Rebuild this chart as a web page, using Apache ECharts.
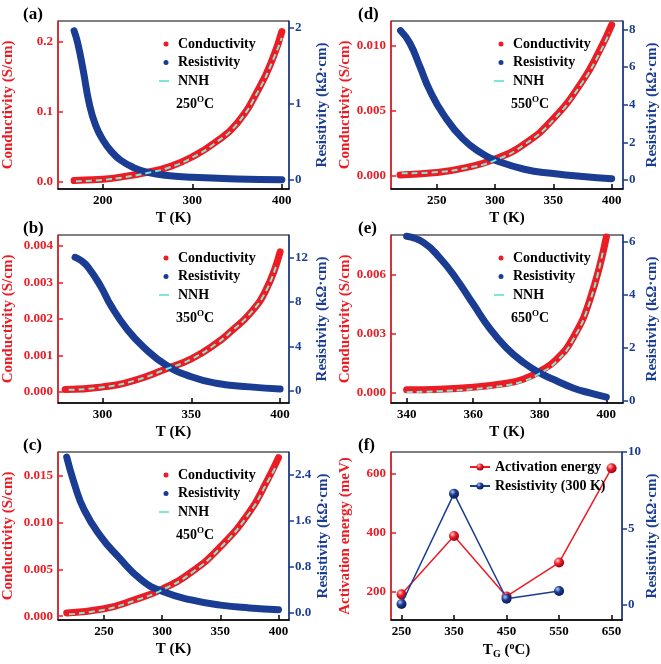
<!DOCTYPE html>
<html>
<head>
<meta charset="utf-8">
<title>Conductivity and resistivity vs T</title>
<script src="https://cdn.jsdelivr.net/npm/echarts@6/dist/echarts.min.js"></script>
<style>
html, body { margin: 0; padding: 0; background: #fff; }
#chart { width: 661px; height: 664px; }
</style>
</head>
<body>
<div id="chart"></div>
<script>
// values, [T (K), value]
// (a) 250 oC
const condA = [[168, 0.002], [180, 0.003], [200, 0.004], [225, 0.008], [250, 0.014], [275, 0.022], [300, 0.036], [325, 0.056], [350, 0.084], [375, 0.135], [390, 0.177], [400, 0.215]]
const nnhA = [[170, 0.001], [200, 0.003], [225, 0.007], [250, 0.013], [275, 0.021], [300, 0.035], [325, 0.055], [350, 0.083], [375, 0.133], [390, 0.174], [400, 0.206]]
const resA = [[168, 1.96], [172, 1.8], [178, 1.45], [185, 1.0], [192, 0.72], [200, 0.53], [210, 0.37], [220, 0.26], [235, 0.16], [250, 0.1], [275, 0.055], [300, 0.035], [350, 0.015], [400, 0.005]]
// (b) 350 oC
const condB = [[279, 0.00007], [300, 0.00014], [318, 0.00032], [336, 0.00064], [350, 0.00091], [364, 0.00133], [373, 0.00169], [383, 0.00215], [392, 0.00279], [400, 0.00384]]
const nnhB = [[281, 0.00006], [300, 0.00013], [318, 0.00031], [336, 0.00063], [350, 0.0009], [364, 0.00132], [373, 0.00168], [383, 0.00214], [392, 0.00276], [398, 0.0035]]
const resB = [[284.6, 12.0], [288, 11.7], [292, 11.1], [299, 9.4], [305, 7.6], [314, 5.5], [323, 3.95], [336, 2.3], [350, 1.26], [364, 0.68], [383, 0.35], [400, 0.15]]
// (c) 450 oC
const condC = [[218, 0.00035], [250, 0.0008], [275, 0.0017], [300, 0.0029], [325, 0.0047], [350, 0.0074], [375, 0.0111], [390, 0.0144], [400, 0.0169]]
const nnhC = [[220, 0.0002], [250, 0.0007], [275, 0.0016], [300, 0.0028], [325, 0.0046], [350, 0.0073], [375, 0.011], [390, 0.0142], [398, 0.016]]
const resC = [[218, 2.71], [224.5, 2.25], [233, 1.79], [247.5, 1.32], [262, 0.98], [282, 0.57], [300, 0.37], [325, 0.22], [350, 0.13], [375, 0.08], [400, 0.05]]
// (d) 550 oC
const condD = [[218.5, 0.00008], [250, 0.00026], [275, 0.00064], [300, 0.0013], [325, 0.00245], [350, 0.0044], [375, 0.0073], [390, 0.0097], [400, 0.0116]]
const nnhD = [[220, 0.0002], [250, 0.0003], [275, 0.0006], [300, 0.0012], [325, 0.0024], [350, 0.0043], [375, 0.0072], [390, 0.0095], [398, 0.011]]
const resD = [[219, 7.93], [227, 7.26], [235.7, 6.0], [244, 4.76], [255.4, 3.51], [272.5, 2.18], [289.7, 1.37], [300, 1.05], [325, 0.57], [350, 0.34], [375, 0.18], [400, 0.07]]
// (e) 650 oC
const condE = [[340, 0.00017], [350, 0.0002], [360, 0.0003], [370, 0.0005], [375, 0.0007], [380, 0.0011], [385, 0.0017], [390, 0.0028], [395, 0.0047], [400, 0.0079]]
const nnhE = [[340, 0.00005], [350, 0.0001], [360, 0.0002], [370, 0.0004], [375, 0.0006], [380, 0.001], [385, 0.0016], [390, 0.0027], [395, 0.0046], [399, 0.0072]]
const resE = [[340, 6.2], [345, 5.97], [350, 5.38], [355, 4.58], [360, 3.64], [365, 2.71], [370, 1.98], [375, 1.44], [380, 1.04], [385, 0.74], [390, 0.47], [395, 0.28], [400, 0.12]]
// (f) growth temperature
const tgF = [250, 350, 450, 550, 650]
const eaF = [192, 390, 185, 300, 620]
const rho300F = [0.05, 7.27, 0.39, 0.9]

const RED = '#ec1c24'
const BLUE = '#1b3c93'
const CYAN = '#7de8d6'
const FONT = "'Liberation Serif', 'Times New Roman', serif"

// panels (a)-(e)
const panels = [
  { tag: '(a)', temp: '250', left: 56, top: 21, x: [150, 408], xt: [200, 300, 400], yl: [-0.01, 0.23], ylt: [0, 0.1, 0.2], yld: 1, yr: [-0.118, 2.09], yrt: [0, 1, 2], yrd: 0, cond: condA, nnh: nnhA, res: resA },
  { tag: '(b)', temp: '350', left: 56, top: 235, x: [275, 405], xt: [300, 350, 400], yl: [-0.0003, 0.0043], ylt: [0, 0.001, 0.002, 0.003, 0.004], yld: 3, yr: [-1.1, 14], yrt: [0, 4, 8, 12], yrd: 0, cond: condB, nnh: nnhB, res: resB },
  { tag: '(c)', temp: '450', left: 56, top: 452, x: [210.5, 409], xt: [250, 300, 350, 400], yl: [-0.0004, 0.0175], ylt: [0, 0.005, 0.01, 0.015], yld: 3, yr: [-0.13, 2.8], yrt: [0, 0.8, 1.6, 2.4], yrd: 1, cond: condC, nnh: nnhC, res: resC },
  { tag: '(d)', temp: '550', left: 391, top: 21, x: [210.8, 409.7], xt: [250, 300, 350, 400], yl: [-0.001, 0.0119], ylt: [0, 0.005, 0.01], yld: 3, yr: [-0.48, 8.44], yrt: [0, 2, 4, 6, 8], yrd: 0, cond: condD, nnh: nnhD, res: resD },
  { tag: '(e)', temp: '650', left: 391, top: 235, x: [335.3, 405], xt: [340, 360, 380, 400], yl: [-0.0005, 0.008], ylt: [0, 0.003, 0.006], yld: 3, yr: [-0.1, 6.25], yrt: [0, 2, 4, 6], yrd: 0, cond: condE, nnh: nnhE, res: resE },
]
const W = 233
const H = 168

// narrow dash for the NNH legend entry
const DASH = 'path://M0,0 L0.01,0 M0,1.4 L10,1.4 L10,3.6 L0,3.6 Z M14,5 L13.99,5'

function bold(size, color) {
  return { fontFamily: FONT, fontWeight: 'bold', fontSize: size, color: color }
}

const grid = []
const xAxis = []
const yAxis = []
const series = []
const legend = []
const title = []

function addAxes(p, i, xName, ylName, extraX) {
  grid.push({ left: p.left, top: p.top, width: W, height: H, show: true, borderColor: '#000', borderWidth: 1, backgroundColor: 'transparent' })
  xAxis.push(Object.assign({
    gridIndex: i, type: 'value', min: p.x[0], max: p.x[1],
    axisLine: { onZero: false, lineStyle: { color: '#000', width: 1.5 } },
    axisTick: { inside: true, length: 5, customValues: p.xt, lineStyle: { color: '#000', width: 1.5 } },
    axisLabel: Object.assign({ customValues: p.xt, margin: 5 }, bold(13, '#000')),
    splitLine: { show: false },
    name: xName, nameLocation: 'middle', nameGap: 22,
    nameTextStyle: bold(15, '#000'),
  }, extraX || {}))
  yAxis.push({
    gridIndex: i, type: 'value', position: 'left', min: p.yl[0], max: p.yl[1],
    axisLine: { show: true, onZero: false, lineStyle: { color: RED, width: 1.5 } },
    axisTick: { show: true, inside: true, length: 5, customValues: p.ylt, lineStyle: { color: RED, width: 1.5 } },
    axisLabel: Object.assign({ customValues: p.ylt, margin: 5, formatter: (v) => v.toFixed(p.yld) }, bold(13, RED)),
    splitLine: { show: false },
    name: ylName, nameLocation: 'middle', nameGap: p.left < 200 ? 42 : 38,
    nameTextStyle: bold(15, RED),
  })
  yAxis.push({
    gridIndex: i, type: 'value', position: 'right', min: p.yr[0], max: p.yr[1],
    axisLine: { show: true, onZero: false, lineStyle: { color: BLUE, width: 1.5 } },
    axisTick: { show: true, inside: false, length: 5, customValues: p.yrt, lineStyle: { color: BLUE, width: 1.5 } },
    axisLabel: Object.assign({ customValues: p.yrt, margin: 6, formatter: (v) => v.toFixed(p.yrd) }, bold(13, BLUE)),
    splitLine: { show: false },
    name: 'Resistivity (kΩ·cm)', nameLocation: 'middle', nameGap: p.left < 200 ? 26 : 22,
    nameTextStyle: bold(15, BLUE),
  })
  title.push({ text: p.tag, left: p.left - 38, top: p.top - 20, textStyle: bold(17, '#000') })
}

const curve = { type: 'line', smooth: 0.5, showSymbol: false }

panels.forEach((p, i) => {
  addAxes(p, i, 'T (K)', 'Conductivity (S/cm)')
  series.push(
    Object.assign({ name: 'Conductivity', xAxisIndex: i, yAxisIndex: 2 * i, data: p.cond, lineStyle: { color: RED, width: 7, cap: 'round' }, itemStyle: { color: RED }, z: 2 }, curve),
    Object.assign({ name: 'Resistivity', xAxisIndex: i, yAxisIndex: 2 * i + 1, data: p.res, lineStyle: { color: BLUE, width: 7, cap: 'round' }, itemStyle: { color: BLUE }, z: 3 }, curve),
    Object.assign({ name: 'NNH', xAxisIndex: i, yAxisIndex: 2 * i, data: p.nnh, lineStyle: { color: CYAN, width: 2, type: [6, 4] }, itemStyle: { color: CYAN }, z: 4 }, curve)
  )
  legend.push({
    orient: 'vertical', left: p.left + 98, top: p.top + 10,
    itemWidth: 14, itemHeight: 5, itemGap: 2.5,
    textStyle: Object.assign({ lineHeight: 16 }, bold(14, '#000')),
    selectedMode: false,
    data: [
      { name: 'Conductivity', icon: 'circle', itemStyle: { color: RED } },
      { name: 'Resistivity', icon: 'circle', itemStyle: { color: BLUE } },
      { name: 'NNH', icon: DASH, itemStyle: { color: CYAN } },
    ],
  })
  title.push({
    text: '{n|' + p.temp + '}{s|O}{n|C}', left: p.left + 115, top: p.top + 69,
    textStyle: {
      rich: {
        n: Object.assign({ lineHeight: 18 }, bold(14, '#000')),
        s: Object.assign({ lineHeight: 10, verticalAlign: 'top' }, bold(9, '#000')),
      },
    },
  })
})

// panel (f)
const pf = { tag: '(f)', left: 391, top: 452, x: [230, 670], xt: tgF, yl: [105, 675], ylt: [200, 400, 600], yld: 0, yr: [-1, 10], yrt: [0, 5, 10], yrd: 0 }
addAxes(pf, 5, '{n|T}{b|G}{n| (}{s|o}{n|C)}', 'Activation energy (meV)', {
  nameGap: 21,
  nameTextStyle: {
    rich: {
      n: Object.assign({ lineHeight: 18 }, bold(15, '#000')),
      b: Object.assign({ lineHeight: 10, verticalAlign: 'bottom' }, bold(10, '#000')),
      s: Object.assign({ lineHeight: 10, verticalAlign: 'top' }, bold(10, '#000')),
    },
  },
})

function sphere(light, mid, dark) {
  return { type: 'radial', x: 0.35, y: 0.32, r: 0.7, colorStops: [{ offset: 0, color: light }, { offset: 0.45, color: mid }, { offset: 1, color: dark }] }
}

series.push(
  { name: 'Activation energy', type: 'line', xAxisIndex: 5, yAxisIndex: 10, data: tgF.map((t, k) => [t, eaF[k]]), symbol: 'circle', symbolSize: 10, lineStyle: { color: RED, width: 1.5 }, itemStyle: { color: sphere('#ffd0d0', '#f0202a', '#9a0010') }, z: 3 },
  { name: 'Resistivity (300 K)', type: 'line', xAxisIndex: 5, yAxisIndex: 11, data: rho300F.map((r, k) => [tgF[k], r]), symbol: 'circle', symbolSize: 10, lineStyle: { color: BLUE, width: 1.5 }, itemStyle: { color: sphere('#b8c8ff', '#1b3c93', '#0a1a50') }, z: 4 }
)
legend.push({
  orient: 'vertical', left: 464, top: 454,
  itemWidth: 20, itemHeight: 9, itemGap: 3,
  textStyle: Object.assign({ lineHeight: 16 }, bold(14, '#000')),
  selectedMode: false,
  data: ['Activation energy', 'Resistivity (300 K)'],
})

const chart = echarts.init(document.getElementById('chart'))
chart.setOption({
  backgroundColor: '#fff',
  animation: false,
  title: title,
  legend: legend,
  grid: grid,
  xAxis: xAxis,
  yAxis: yAxis,
  series: series,
})
</script>
</body>
</html>
